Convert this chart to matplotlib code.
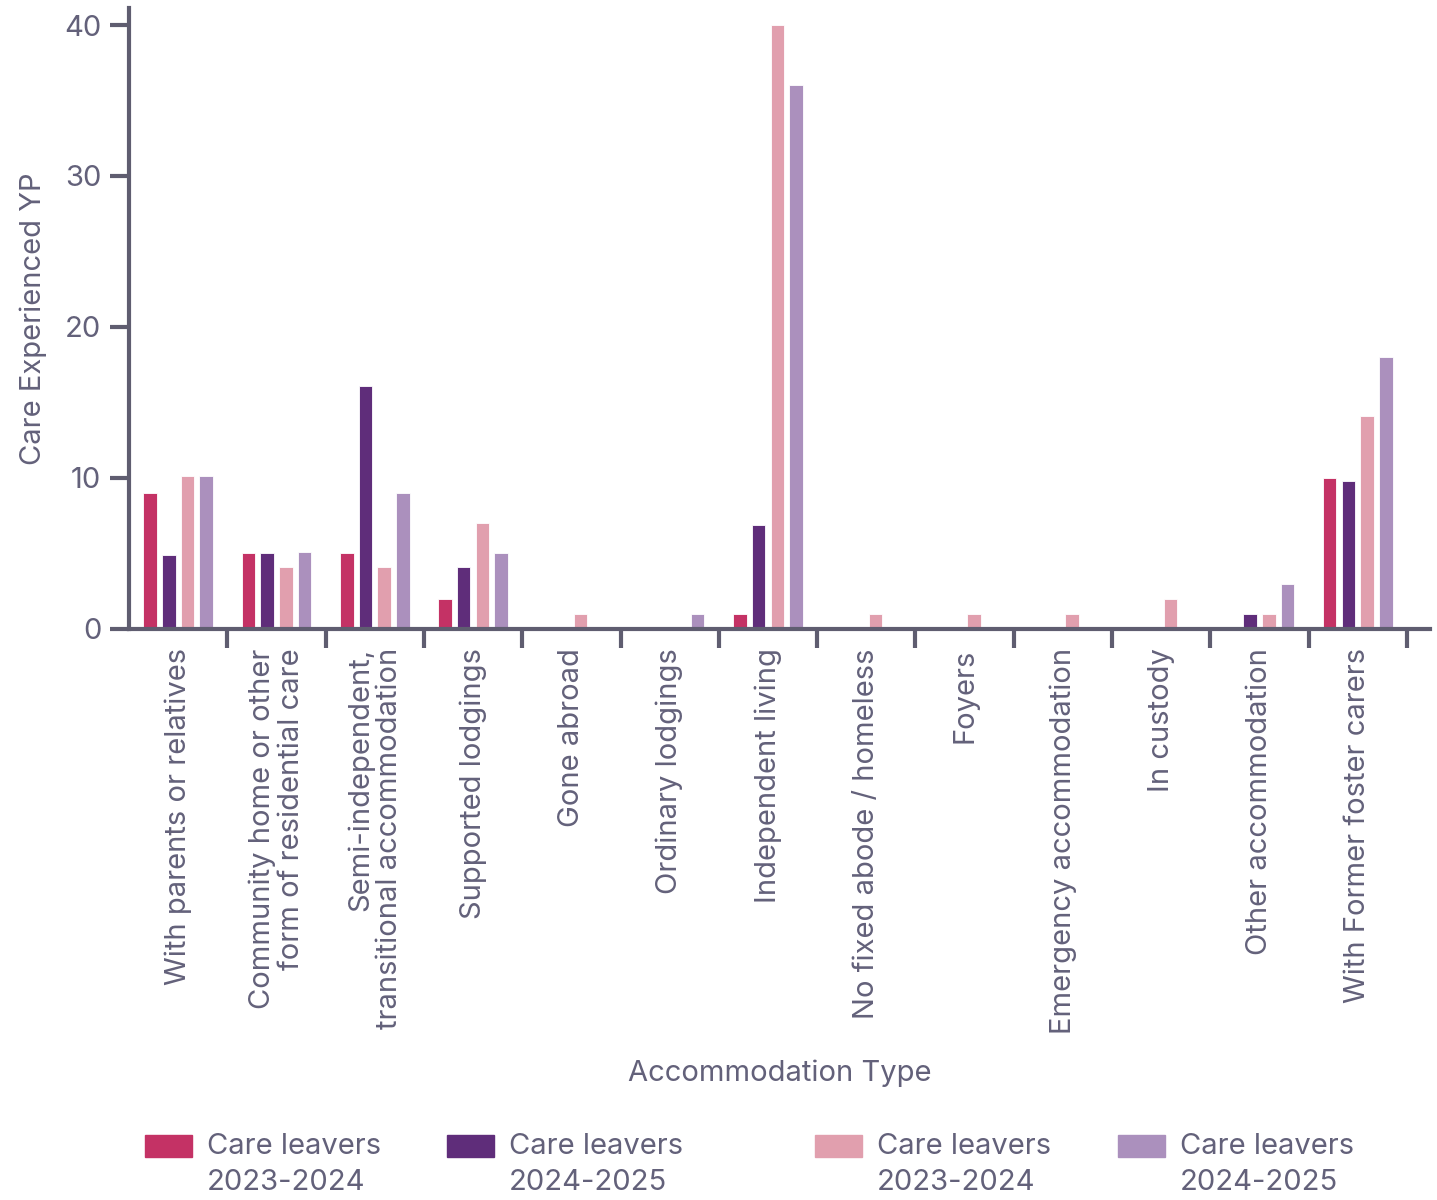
import numpy as np
import matplotlib
matplotlib.use("Agg")
import matplotlib.pyplot as plt
from matplotlib.patches import Rectangle

plt.rcParams['font.family'] = ['Inter', 'DejaVu Sans']

categories = ["With parents or relatives",
              "Community home or other\nform of residential care",
              "Semi-independent,\ntransitional accommodation",
              "Supported lodgings",
              "Gone abroad",
              "Ordinary lodgings",
              "Independent living",
              "No fixed abode / homeless",
              "Foyers",
              "Emergency accommodation",
              "In custody",
              "Other accommodation",
              "With Former foster carers"]
s1 = [9, 5, 5, 2, 0, 0, 1, 0, 0, 0, 0, 0, 10]
s2 = [4.9, 5, 16.1, 4.1, 0, 0, 6.9, 0, 0, 0, 0, 1, 9.8]
s3 = [10.1, 4.1, 4.1, 7, 1, 0, 40, 1, 1, 1, 2, 1, 14.1]
s4 = [10.1, 5.1, 9, 5, 0, 1, 36, 0, 0, 0, 0, 3, 18]
series = [s1, s2, s3, s4]
labels = ["Care leavers\n2023-2024", "Care leavers\n2024-2025",
          "Care leavers\n2023-2024", "Care leavers\n2024-2025"]
colors = ["#c43265", "#5f2d7a", "#e19fae", "#ab90bd"]
txt = "#63617a"
ax_col = "#5f5d70"

fig = plt.figure(figsize=(14.37, 12), dpi=100)
ax = fig.add_axes([0.0898, 0.476, 0.905, 0.517])

x = np.arange(len(categories))
step = 0.19
w = 0.137
for i, (vals, c) in enumerate(zip(series, colors)):
    ax.bar(x + (i - 1.5) * step, vals, width=w, color=c,
           edgecolor="white", linewidth=0.6, zorder=2)

ax.set_xlim(-0.5, 12.73)
ax.set_ylim(0, 41.1)
ax.set_yticks([0, 10, 20, 30, 40])
ax.set_xticks(x)
ax.set_xticklabels(categories, rotation=90, ha="center", va="top",
                   multialignment="right", linespacing=1.1)
ax.set_xticks(np.arange(0.5, 12.6, 1), minor=True)

for s in ["top", "right"]:
    ax.spines[s].set_visible(False)
for s in ["left", "bottom"]:
    ax.spines[s].set_color(ax_col)
    ax.spines[s].set_linewidth(3)
ax.spines["bottom"].set_zorder(3)

ax.tick_params(axis="y", length=14, width=3, color=ax_col, labelsize=21,
               labelcolor=txt, pad=6)
ax.tick_params(axis="x", which="major", length=0, labelsize=21,
               labelcolor=txt, pad=14)
ax.tick_params(axis="x", which="minor", length=14, width=3, color=ax_col,
               direction="out")

ax.set_ylabel("Care Experienced YP", fontsize=21, color=txt, labelpad=12)
ax.set_xlabel("Accommodation Type", fontsize=21, color=txt, labelpad=18)

# legend
leg_x = [145, 447, 815, 1118]
for lx, lab, c in zip(leg_x, labels, colors):
    fig.add_artist(Rectangle((lx / 1437, 1 - 1157 / 1200), 47 / 1437, 22 / 1200,
                             transform=fig.transFigure, color=c))
    fig.text((lx + 62) / 1437, 1 - 1133 / 1200, lab, fontsize=21, color=txt,
             va="top", ha="left", linespacing=1.45)

fig.savefig("out.png", dpi=100)
